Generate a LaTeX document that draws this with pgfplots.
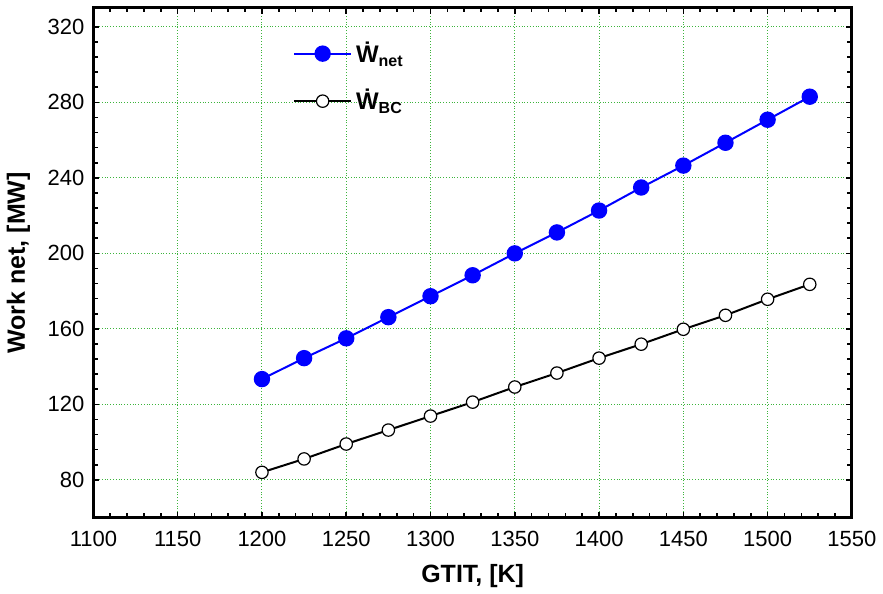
\documentclass[border=0pt]{standalone}
\usepackage{fontspec}
\setmainfont{Liberation Sans}
\usepackage{pgfplots}
\pgfplotsset{compat=1.18}
\definecolor{gridgreen}{RGB}{60,180,60}
\begin{document}
\begin{tikzpicture}
\begin{axis}[
  scale only axis,
  width=379.5pt, height=255pt,
  xmin=1100, xmax=1550, ymin=60, ymax=330,
  xtick={1100,1150,...,1550},
  ytick={80,120,...,320},
  minor x tick num=4,
  minor y tick num=4,
  tick align=inside,
  major tick length=3pt, minor tick length=2.2pt,
  tick style={black, line width=0.8pt},
  axis line style={line width=1.5pt},
  grid=major,
  major grid style={gridgreen, densely dotted, line width=0.5pt},
  /pgf/number format/assume math mode=true,
  /pgf/number format/1000 sep={},
  ticklabel style={font=\fontsize{11}{13}\selectfont},
  xticklabel style={yshift=-3pt},
  yticklabel style={xshift=-1pt},
  xlabel={\textbf{GTIT, [K]}},
  ylabel={\textbf{Work net, [MW]}},
  label style={font=\fontsize{12.5}{14}\selectfont},
  xlabel style={yshift=-2pt},
  ylabel style={yshift=2pt},
  legend style={at={(0.255,0.95)}, anchor=north west, draw=none, fill=none,
    row sep=8pt, font=\fontsize{12}{14}\selectfont},
  legend cell align=left,
  legend image code/.code={\draw[mark repeat=2,mark phase=2] plot coordinates {(0cm,0cm)(0.5cm,0cm)(1.0cm,0cm)};},
]
\addplot[blue, line width=1pt, mark=*, mark size=3.6pt, mark options={fill=blue, draw=blue}] coordinates {
(1200,133.4)(1225,144.5)(1250,155.0)(1275,166.2)(1300,177.3)(1325,188.4)(1350,200.0)
(1375,211.1)(1400,222.7)(1425,234.9)(1450,246.5)(1475,258.6)(1500,270.8)(1525,283.0)};
\addlegendentry{\textbf{\.W\textsubscript{net}}}
\addplot[black, line width=1pt, mark=*, mark size=3.1pt, mark options={fill=white, draw=black, line width=0.6pt}] coordinates {
(1200,84.0)(1225,91.1)(1250,99.0)(1275,106.4)(1300,113.8)(1325,121.2)(1350,129.2)
(1375,136.6)(1400,144.5)(1425,151.9)(1450,159.8)(1475,167.2)(1500,175.7)(1525,183.6)};
\addlegendentry{\textbf{\.W\textsubscript{BC}}}
\end{axis}
\path (current axis.north west) ++(0,4pt);
\end{tikzpicture}
\end{document}
